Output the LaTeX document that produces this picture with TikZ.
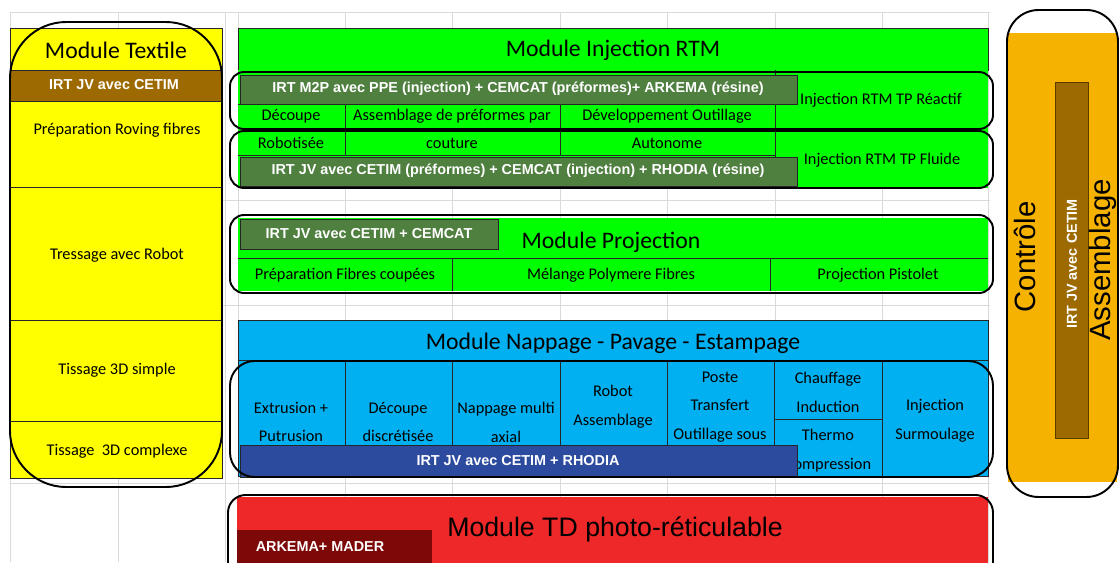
\documentclass[tikz,border=0pt]{standalone}
\usepackage{fontspec}
\setmainfont{Carlito}
\newfontfamily\arialfont{Liberation Sans}
\usepackage{tikz}
\definecolor{gris}{RGB}{218,218,218}
\definecolor{jaune}{RGB}{255,255,0}
\definecolor{brun}{RGB}{156,106,0}
\definecolor{brunfonce}{RGB}{90,60,0}
\definecolor{vert}{RGB}{0,255,0}
\definecolor{vertfonce}{RGB}{80,128,64}
\definecolor{bleu}{RGB}{0,176,240}
\definecolor{bleufonce}{RGB}{44,75,158}
\definecolor{rouge}{RGB}{238,40,40}
\definecolor{rougefonce}{RGB}{125,8,8}
\definecolor{orangeb}{RGB}{246,178,0}

\begin{document}
\begin{tikzpicture}[x=0.02cm,y=0.02cm,
  grille/.style={draw=gris,line width=0.4pt},
  cellule/.style={draw=black!85,line width=0.5pt},
  cadre/.style={draw=black,line width=1.1pt,rounded corners=8},
  titre/.style={font=\fontsize{13.5}{16}\selectfont},
  texte/.style={font=\fontsize{9.3}{16.4}\selectfont,align=center},
  partenaire/.style={font=\arialfont\bfseries\fontsize{8.2}{10}\selectfont,text=white},
  grand/.style={font=\arialfont\fontsize{15.2}{18}\selectfont}]
\useasboundingbox (0,0) rectangle (1120,-562);
\clip (0,0) rectangle (1120,-562);
\fill[white] (0,0) rectangle (1120,-562);
\foreach \gx in {10,118,225,238,345,452,560,667,775,882,988}
  \draw[grille] (\gx,-12) -- (\gx,-562);
\foreach \gy in {12,200,305,483}
  \draw[grille] (10,-\gy) -- (990,-\gy);

\draw[cellule,fill=jaune] (10,-28) rectangle (222,-478);
\foreach \ly in {187,320,421}
  \draw[cellule] (10,-\ly) -- (222,-\ly);
\draw[cellule,fill=brun] (10,-70) rectangle (222,-101);
\node[titre] (textile) at (116,-50) {Module Textile};
\node[partenaire] (textilepart) at (114,-85) {IRT JV avec CETIM};
\node[texte] (roving) at (117,-130) {Préparation Roving fibres};
\node[texte] (tressage) at (117,-255) {Tressage avec Robot};
\node[texte] (simple) at (117,-370) {Tissage 3D simple};
\node[texte] (complexe) at (117,-451) {Tissage\ \ 3D complexe};
\draw[cadre,rounded corners=32] (10,-22) rectangle (222,-487);

\draw[cellule,fill=vert] (238,-28) rectangle (988,-70);
\node[titre] (rtm) at (613,-50) {Module Injection RTM};
\fill[vert] (238,-70) rectangle (988,-188);
\draw[cellule] (238,-104) -- (775,-104) (238,-155) -- (775,-155);
\draw[cellule] (345,-104) -- (345,-155) (560,-104) -- (560,-155) (775,-70) -- (775,-188);
\draw[cellule,fill=vertfonce] (240,-75) rectangle (797,-104);
\draw[cellule,fill=vertfonce] (240,-157) rectangle (797,-186);
\node[partenaire] (rtmpart) at (518,-89) {IRT M2P avec PPE (injection) + CEMCAT (préformes)+ ARKEMA (résine)};
\node[partenaire] (rtmpartb) at (518,-171) {IRT JV avec CETIM (préformes) + CEMCAT (injection) + RHODIA (résine)};
\node[texte] (decoupe) at (291,-116) {Découpe};
\node[texte] (assemblage) at (452,-116) {Assemblage de préformes par};
\node[texte] (outillage) at (667,-116) {Développement Outillage};
\node[texte] (robotisee) at (291,-143) {Robotisée};
\node[texte] (couture) at (452,-143) {couture};
\node[texte] (autonome) at (667,-143) {Autonome};
\node[texte] (reactif) at (881,-100) {Injection RTM TP Réactif};
\node[texte] (fluide) at (882,-160) {Injection RTM TP Fluide};
\draw[cadre] (230,-72) rectangle (993,-129);
\draw[cadre] (230,-131) rectangle (993,-188);

\fill[vert] (238,-218) rectangle (988,-291);
\draw[cellule] (238,-258) -- (988,-258) (452,-258) -- (452,-291) (770,-258) -- (770,-291);
\draw[cellule,fill=vertfonce] (240,-219) rectangle (498,-249);
\node[partenaire] (projpart) at (369,-234) {IRT JV avec CETIM + CEMCAT};
\node[titre] (projection) at (611,-242) {Module Projection};
\node[texte] (fibres) at (345,-275) {Préparation Fibres coupées};
\node[texte] (melange) at (611,-275) {Mélange Polymere Fibres};
\node[texte] (pistolet) at (878,-275) {Projection Pistolet};
\draw[cadre] (230,-215) rectangle (993,-293);

\draw[cellule,fill=bleu] (238,-320) rectangle (988,-360);
\node[titre] (nappage) at (613,-343) {Module Nappage - Pavage - Estampage};
\draw[cellule,fill=bleu] (238,-360) rectangle (988,-476);
\foreach \cx in {345,452,560,667,774,882}
  \draw[cellule] (\cx,-360) -- (\cx,-476);
\draw[cellule] (774,-419) -- (882,-419);
\node[texte] (extrusion) at (291,-422) {Extrusion +\\Putrusion};
\node[texte] (discretisee) at (398,-422) {Découpe\\discrétisée};
\node[texte] (multiaxial) at (506,-422) {Nappage multi\\axial};
\node[texte] (robot) at (613,-407) {Robot\\Assemblage};
\node[texte] (poste) at (720,-407) {Poste\\Transfert\\Outillage sous};
\node[texte] (chauffage) at (828,-392) {Chauffage\\Induction};
\node[texte] (thermo) at (828,-451) {Thermo\\Compression};
\node[texte] (surmoulage) at (935,-421) {Injection\\Surmoulage};
\draw[cellule,fill=bleufonce] (240,-445) rectangle (797,-477);
\node[partenaire] (nappart) at (518,-461) {IRT JV avec CETIM + RHODIA};
\draw[cadre,rounded corners=14] (230,-361) rectangle (993,-477);

\fill[rouge] (237,-497) rectangle (988,-570);
\fill[rougefonce] (237,-530) rectangle (432,-570);
\node[partenaire] (tdpart) at (320,-547) {ARKEMA+ MADER};
\node[grand] (td) at (615,-529) {Module TD photo-réticulable};
\draw[cadre,rounded corners=10] (228,-495) rectangle (993,-600);

\fill[orangeb] (1008,-33) rectangle (1117,-482);
\draw[cellule,fill=brun,draw=brunfonce] (1055,-82) rectangle (1088,-438);
\node[partenaire,rotate=90] (controlepart) at (1072,-264) {IRT JV avec CETIM};
\node[grand,rotate=90,font=\arialfont\fontsize{16.7}{20}\selectfont] (controle) at (1025,-257) {Contrôle};
\node[grand,rotate=90,font=\arialfont\fontsize{16.7}{20}\selectfont] (assemblagefin) at (1103,-260) {Assemblage};
\draw[cadre,rounded corners=18] (1007,-10) rectangle (1118,-497);
\end{tikzpicture}
\end{document}
